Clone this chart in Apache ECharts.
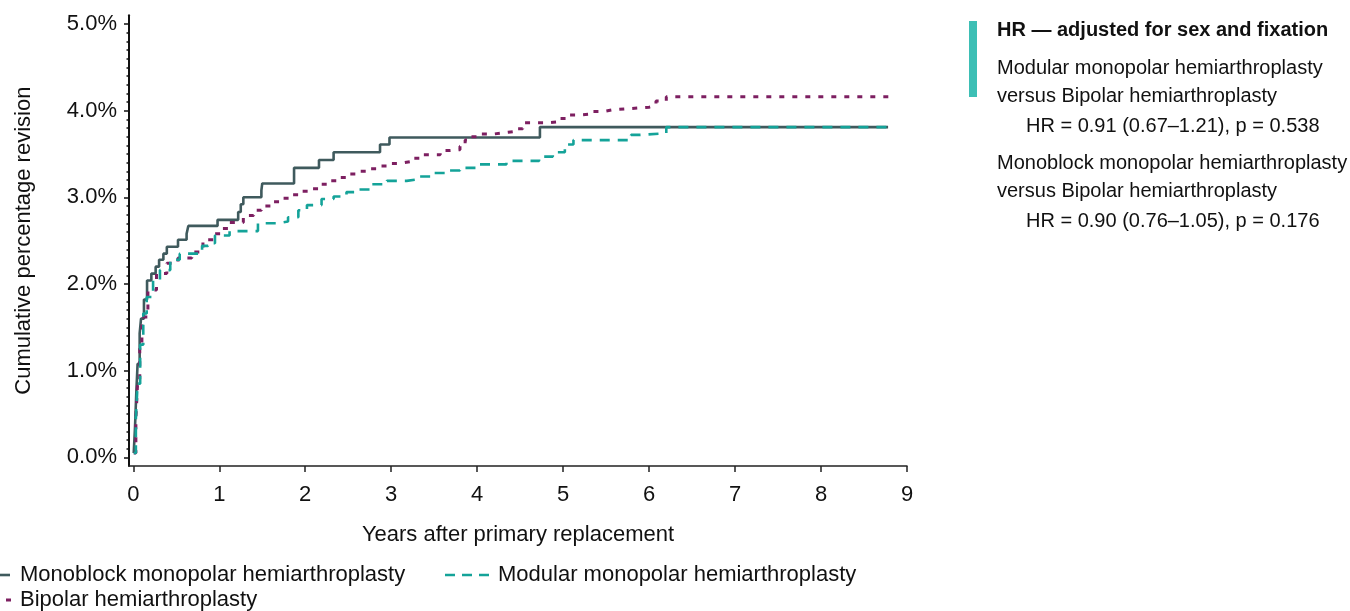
<!DOCTYPE html>
<html>
<head>
<meta charset="utf-8">
<title>Cumulative percentage revision by hemiarthroplasty type</title>
<script src="https://cdn.jsdelivr.net/npm/echarts@6/dist/echarts.min.js"></script>
<style>
  html, body { margin: 0; padding: 0; background: #ffffff; }
  #chart { width: 1350px; height: 611px; }
</style>
</head>
<body>
<div id="chart"></div>
<script>
// Kaplan–Meier style cumulative revision (%) by years after primary replacement

const monoblockYears = [0.005, 0.02, 0.035, 0.05, 0.074, 0.09, 0.124, 0.16, 0.21, 0.26, 0.30, 0.35, 0.39, 0.52, 0.62, 0.64, 0.98, 1.22, 1.25, 1.28, 1.49, 1.50, 1.87, 2.16, 2.33, 2.87, 2.98, 4.73, 8.78];
const monoblockPct   = [0.05, 0.35, 0.75, 1.08, 1.43, 1.60, 1.82, 2.04, 2.12, 2.20, 2.28, 2.35, 2.43, 2.51, 2.58, 2.67, 2.74, 2.83, 2.92, 3.00, 3.08, 3.16, 3.34, 3.43, 3.52, 3.61, 3.69, 3.81, 3.81];

const modularYears = [0.005, 0.03, 0.05, 0.08, 0.116, 0.156, 0.23, 0.31, 0.43, 0.54, 0.80, 0.87, 0.95, 1.12, 1.45, 1.67, 1.80, 1.92, 2.02, 2.19, 2.33, 2.48, 2.62, 2.75, 2.95, 3.18, 3.33, 3.47, 3.64, 3.80, 3.99, 4.34, 4.72, 4.88, 5.02, 5.12, 5.79, 5.89, 6.20, 8.80];
const modularPct   = [0.05, 0.45, 0.85, 1.30, 1.66, 1.85, 2.05, 2.16, 2.28, 2.35, 2.44, 2.47, 2.56, 2.61, 2.70, 2.72, 2.77, 2.85, 2.91, 2.98, 3.01, 3.06, 3.09, 3.15, 3.19, 3.21, 3.24, 3.28, 3.31, 3.34, 3.38, 3.42, 3.47, 3.52, 3.61, 3.66, 3.72, 3.74, 3.81, 3.81];

const bipolarYears = [0.005, 0.03, 0.05, 0.075, 0.10, 0.17, 0.27, 0.39, 0.52, 0.68, 0.81, 0.93, 1.03, 1.12, 1.28, 1.40, 1.49, 1.61, 1.71, 1.82, 1.94, 2.05, 2.15, 2.25, 2.37, 2.50, 2.62, 2.73, 2.85, 2.98, 3.09, 3.22, 3.33, 3.57, 3.68, 3.80, 3.86, 3.93, 4.03, 4.19, 4.36, 4.44, 4.53, 4.83, 4.94, 5.04, 5.19, 5.31, 5.47, 5.58, 5.87, 6.00, 6.08, 6.20, 8.82];
const bipolarPct   = [0.05, 0.45, 0.85, 1.30, 1.62, 1.93, 2.12, 2.24, 2.30, 2.37, 2.51, 2.58, 2.64, 2.71, 2.79, 2.85, 2.90, 2.95, 2.99, 3.03, 3.07, 3.10, 3.15, 3.19, 3.23, 3.27, 3.30, 3.33, 3.36, 3.39, 3.41, 3.45, 3.49, 3.54, 3.55, 3.59, 3.66, 3.70, 3.73, 3.75, 3.76, 3.79, 3.86, 3.87, 3.91, 3.95, 3.96, 3.99, 4.01, 4.03, 4.04, 4.06, 4.11, 4.16, 4.16];

const xTickLabels = [0, 1, 2, 3, 4, 5, 6, 7, 8, 9];
const yTickLabels = [0, 1, 2, 3, 4, 5];

const seriesNames = [
  'Monoblock monopolar hemiarthroplasty',
  'Modular monopolar hemiarthroplasty',
  'Bipolar hemiarthroplasty'
];

const hrTitle = 'HR \u2014 adjusted for sex and fixation';
const hrLines = [
  'Modular monopolar hemiarthroplasty',
  'versus Bipolar hemiarthroplasty',
  'HR = 0.91 (0.67\u20131.21), p = 0.538',
  'Monoblock monopolar hemiarthroplasty',
  'versus Bipolar hemiarthroplasty',
  'HR = 0.90 (0.76\u20131.05), p = 0.176'
];

const COLORS = {
  monoblock: '#3f5a5d',
  modular: '#14a399',
  bipolar: '#7d1f61',
  accent: '#3dbfb5',
  text: '#111111',
  axis: '#111111'
};
const FONT = '"Liberation Sans", Arial, Helvetica, sans-serif';

function zip(xs, ys) { return xs.map((x, i) => [x, ys[i]]); }

// minor ticks every 0.1 percentage point between the labelled ones
const yMinorTicks = [];
for (let i = 0; i <= 50; i++) { if (i % 10 !== 0) yMinorTicks.push(+(i / 10).toFixed(1)); }

const chart = echarts.init(document.getElementById('chart'), null, { renderer: 'canvas' });

const textEl = (x, y, text, opts) => Object.assign({
  type: 'text', x: x, y: y, silent: true,
  style: Object.assign({ text: text, fontSize: 20, fontFamily: FONT, fill: COLORS.text, verticalAlign: 'middle', align: 'left' }, opts || {})
});

const option = {
  animation: false,
  backgroundColor: '#ffffff',
  grid: { left: 129, right: 443, top: 15.3, bottom: 145, containLabel: false },
  xAxis: {
    type: 'value', min: -0.05, max: 9,
    name: 'Years after primary replacement', nameLocation: 'middle', nameGap: 58,
    nameTextStyle: { fontSize: 22, fontFamily: FONT, color: COLORS.text },
    axisLine: { show: true, onZero: false, lineStyle: { color: '#222', width: 1.5 } },
    axisTick: { show: true, customValues: xTickLabels, length: 6, lineStyle: { color: '#222', width: 1.5 } },
    axisLabel: { customValues: xTickLabels, fontSize: 22, fontFamily: FONT, color: COLORS.text, margin: 18, formatter: v => String(Math.round(v)) },
    splitLine: { show: false }
  },
  yAxis: [
    {
      type: 'value', min: -0.1, max: 5.1, position: 'left',
      name: 'Cumulative percentage revision', nameLocation: 'middle', nameGap: 94,
      nameTextStyle: { fontSize: 22, fontFamily: FONT, color: COLORS.text },
      axisLine: { show: true, onZero: false, lineStyle: { color: COLORS.axis, width: 2 } },
      axisTick: { show: true, customValues: yTickLabels, length: 5, lineStyle: { color: COLORS.axis, width: 1.5 } },
      axisLabel: { customValues: yTickLabels, fontSize: 22, fontFamily: FONT, color: COLORS.text, margin: 12, formatter: v => v.toFixed(1) + '%' },
      splitLine: { show: false }
    },
    {
      type: 'value', min: -0.1, max: 5.1, position: 'left',
      axisLine: { show: false, onZero: false },
      axisTick: { show: true, customValues: yMinorTicks, length: 2.5, lineStyle: { color: COLORS.axis, width: 1.5 } },
      axisLabel: { show: false },
      splitLine: { show: false }
    }
  ],
  series: [
    {
      name: seriesNames[0], type: 'line', step: 'end', showSymbol: false, symbol: 'none',
      data: zip(monoblockYears, monoblockPct),
      lineStyle: { color: COLORS.monoblock, width: 2.6 }, z: 2
    },
    {
      name: seriesNames[2], type: 'line', step: 'end', showSymbol: false, symbol: 'none',
      data: zip(bipolarYears, bipolarPct),
      lineStyle: { color: COLORS.bipolar, width: 3, type: [5, 8], cap: 'butt' }, z: 3
    },
    {
      name: seriesNames[1], type: 'line', step: 'end', showSymbol: false, symbol: 'none',
      data: zip(modularYears, modularPct),
      lineStyle: { color: COLORS.modular, width: 2.6, type: [10, 8], cap: 'butt' }, z: 4
    }
  ],
  graphic: [
    // hazard ratio panel
    { type: 'rect', shape: { x: 969, y: 21, width: 8, height: 76 }, style: { fill: COLORS.accent }, silent: true },
    textEl(997, 30, hrTitle, { fontWeight: 'bold' }),
    textEl(997, 68, hrLines[0]),
    textEl(997, 96, hrLines[1]),
    textEl(1026, 126, hrLines[2]),
    textEl(997, 163, hrLines[3]),
    textEl(997, 191, hrLines[4]),
    textEl(1026, 221, hrLines[5]),
    // legend
    { type: 'line', shape: { x1: -6, y1: 575, x2: 10, y2: 575 }, style: { stroke: COLORS.monoblock, lineWidth: 2.6 }, silent: true },
    textEl(20, 575, seriesNames[0], { fontSize: 22 }),
    { type: 'line', shape: { x1: 445, y1: 575, x2: 495, y2: 575 }, style: { stroke: COLORS.modular, lineWidth: 2.6, lineDash: [10, 7] }, silent: true },
    textEl(498, 575, seriesNames[1], { fontSize: 22 }),
    { type: 'line', shape: { x1: 6, y1: 600, x2: 11, y2: 600 }, style: { stroke: COLORS.bipolar, lineWidth: 3 }, silent: true },
    textEl(20, 600, seriesNames[2], { fontSize: 22 })
  ]
};

chart.setOption(option);
</script>
</body>
</html>
